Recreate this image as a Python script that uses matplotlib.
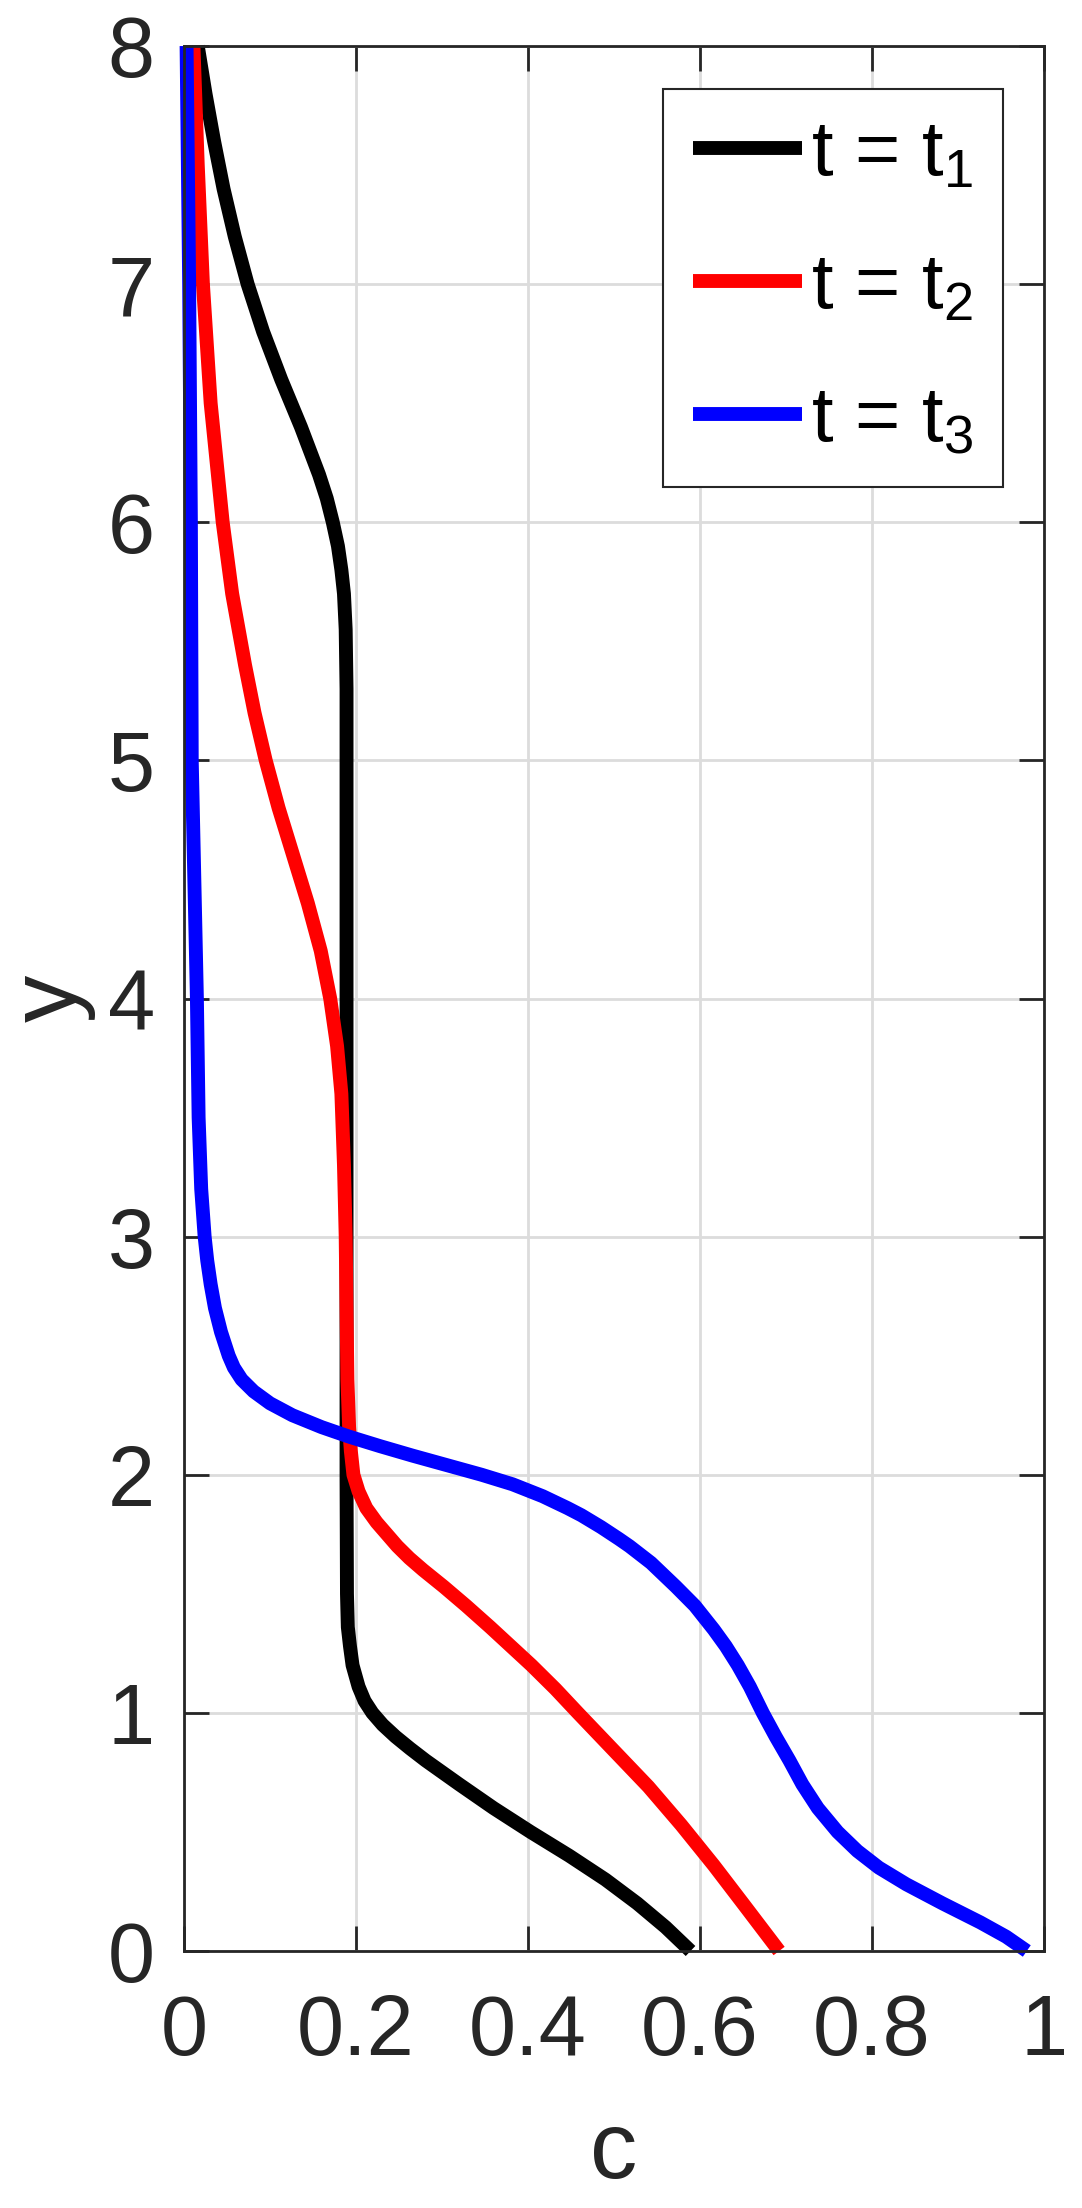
import matplotlib
matplotlib.use("Agg")
import matplotlib.pyplot as plt
import numpy as np

plt.rcParams['font.family'] = ['Liberation Sans', 'DejaVu Sans']
plt.rcParams['mathtext.default'] = 'regular'

# concentration profiles c(y), top to bottom
y_t1 = [8.0, 7.8, 7.6, 7.4, 7.2, 7.0, 6.8, 6.6, 6.4, 6.2, 6.1, 6.0, 5.9, 5.8, 5.7,
        5.55, 5.3, 4.0, 3.0, 2.0, 1.5, 1.36, 1.28, 1.2, 1.11, 1.05, 1.0, 0.95, 0.9,
        0.85, 0.8, 0.7, 0.6, 0.5, 0.4, 0.3, 0.2, 0.1, 0.0]
c_t1 = [0.016, 0.025, 0.035, 0.046, 0.059, 0.074, 0.092, 0.113, 0.136, 0.157, 0.166,
        0.173, 0.179, 0.183, 0.186, 0.188, 0.189, 0.189, 0.189, 0.189, 0.1895, 0.1905,
        0.193, 0.196, 0.203, 0.210, 0.219, 0.231, 0.246, 0.263, 0.281, 0.320, 0.360,
        0.403, 0.448, 0.490, 0.527, 0.560, 0.589]

y_t2 = [8.0, 7.5, 7.0, 6.5, 6.0, 5.7, 5.4, 5.2, 5.0, 4.8, 4.6, 4.4, 4.2, 4.0, 3.8,
        3.6, 3.3, 3.0, 2.7, 2.4, 2.2, 2.1, 2.0, 1.93, 1.86, 1.8, 1.75, 1.7, 1.65, 1.6,
        1.53, 1.45, 1.36, 1.2, 1.1, 1.0, 0.86, 0.69, 0.53, 0.36, 0.19, 0.0]
c_t2 = [0.011, 0.016, 0.022, 0.031, 0.045, 0.056, 0.071, 0.082, 0.095, 0.110, 0.127,
        0.144, 0.159, 0.170, 0.178, 0.183, 0.186, 0.188, 0.189, 0.190, 0.192, 0.194,
        0.197, 0.203, 0.212, 0.224, 0.236, 0.248, 0.262, 0.278, 0.302, 0.328, 0.356,
        0.404, 0.432, 0.458, 0.495, 0.540, 0.578, 0.616, 0.652, 0.692]

y_t3 = [8.0, 7.0, 6.0, 5.0, 4.67, 4.0, 3.5, 3.2, 3.0, 2.9, 2.8, 2.7, 2.6, 2.5, 2.45,
        2.4, 2.35, 2.3, 2.25, 2.2, 2.16, 2.12, 2.08, 2.04, 2.0, 1.96, 1.91, 1.86, 1.83,
        1.78, 1.73, 1.7, 1.63, 1.53, 1.45, 1.35, 1.28, 1.2, 1.11, 1.0, 0.9, 0.8, 0.7,
        0.6, 0.5, 0.42, 0.35, 0.28, 0.2, 0.12, 0.06, 0.0]
c_t3 = [0.003, 0.006, 0.008, 0.009, 0.011, 0.015, 0.017, 0.020, 0.024, 0.027, 0.031,
        0.036, 0.043, 0.052, 0.058, 0.067, 0.081, 0.100, 0.126, 0.160, 0.192, 0.228,
        0.266, 0.306, 0.346, 0.382, 0.417, 0.446, 0.462, 0.485, 0.506, 0.518, 0.543,
        0.572, 0.594, 0.616, 0.630, 0.644, 0.658, 0.673, 0.688, 0.704, 0.719, 0.737,
        0.760, 0.783, 0.808, 0.840, 0.882, 0.926, 0.956, 0.980]

labels = ['t = t$_1$', 't = t$_2$', 't = t$_3$']
colors = ['black', 'red', 'blue']

W, H = 1082, 2208
fig = plt.figure(figsize=(W / 100, H / 100), dpi=100)
ax = fig.add_axes([184 / W, 257 / H, (1044 - 184) / W, (2162 - 257) / H])

for c, y, col, lab in zip([c_t1, c_t2, c_t3], [y_t1, y_t2, y_t3], colors, labels):
    ax.plot(c, y, color=col, lw=10, label=lab, clip_on=False,
            solid_capstyle='butt', solid_joinstyle='round')

ax.set_xlim(0, 1)
ax.set_ylim(0, 8)
ax.set_xticks(np.arange(0, 1.01, 0.2))
ax.set_xticklabels(['0', '0.2', '0.4', '0.6', '0.8', '1'])
ax.set_yticks(range(0, 9))

ax.grid(True, color='#dcdcdc', linewidth=2)
ax.set_axisbelow(True)
for s in ax.spines.values():
    s.set_linewidth(2)
    s.set_color('#262626')
ax.tick_params(direction='in', length=18, width=2, top=True, right=True,
               labelsize=61, color='#262626', labelcolor='#262626')
ax.tick_params(axis='x', pad=30)
ax.tick_params(axis='y', pad=21)

ax.set_xlabel('c', fontsize=68, color='#262626')
ax.xaxis.label.set_verticalalignment('baseline')
ax.xaxis.set_label_coords(0.5, -0.119)
ax.set_ylabel('y', fontsize=68, color='#262626')
ax.yaxis.set_label_coords(-0.103, 0.5)

leg = ax.legend(loc='upper right', bbox_to_anchor=(1003 / W, (H - 89) / H),
                bbox_transform=fig.transFigure, borderaxespad=0, fontsize=56,
                fancybox=False, framealpha=1, edgecolor='#262626',
                handlelength=1.4, handletextpad=0.12, labelspacing=0.77,
                borderpad=0.38)
leg.get_frame().set_linewidth(1.5)

fig.savefig('out.png', dpi=100)
